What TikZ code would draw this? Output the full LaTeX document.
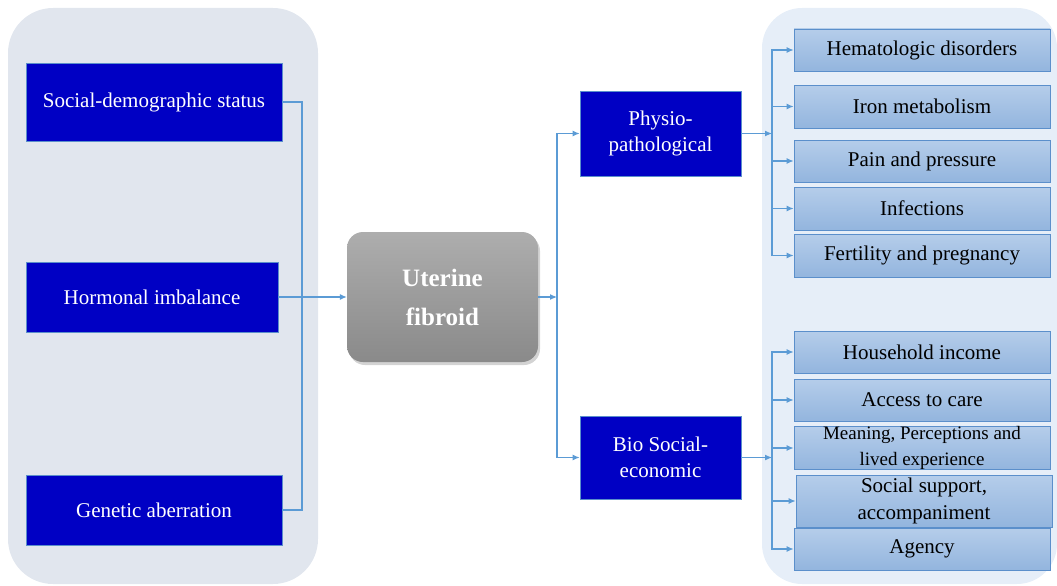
\documentclass[tikz,border=0pt]{standalone}
\usepackage{fontspec}
\setmainfont{Liberation Serif}
\usetikzlibrary{arrows.meta,shadows}
\definecolor{panelgrey}{HTML}{E1E6EE}
\definecolor{panelblue}{HTML}{E6EEF8}
\definecolor{deepblue}{HTML}{0000C4}
\definecolor{edgeblue}{HTML}{5B8FCB}
\definecolor{linkblue}{HTML}{5B9BD5}
\definecolor{boxtop}{HTML}{B5CDEA}
\definecolor{boxbot}{HTML}{93B5DE}
\begin{document}
\begin{tikzpicture}[x=1pt,y=-1pt,
    causebox/.style={draw=edgeblue,fill=deepblue,text=white,line width=0.8pt,
      font=\fontsize{21}{26}\selectfont,align=center},
    resultbox/.style={draw=edgeblue,line width=0.8pt,top color=boxtop,bottom color=boxbot,
      minimum width=256pt,minimum height=42pt,inner sep=0pt,
      font=\fontsize{21}{27}\selectfont,align=center},
    link/.style={draw=linkblue,line width=1.1pt},
    linkarr/.style={link,-{Latex[length=7pt,width=6pt]}}]
  \useasboundingbox (0,0) rectangle (1057,586);
  \fill[panelgrey,rounded corners=45pt] (8,8) rectangle (318,584);
  \fill[panelblue,rounded corners=40pt] (762,8) rectangle (1057,584);
  \draw
    (154,102) node[causebox,minimum width=256pt,minimum height=78pt] (soc){Social-demographic status}
    (152,297) node[causebox,minimum width=252pt,minimum height=70pt] (horm){Hormonal imbalance}
    (154,510) node[causebox,minimum width=256pt,minimum height=70pt] (gen){Genetic aberration}
    (442.5,297) node[rounded corners=16pt,top color=black!32,bottom color=black!46,
      drop shadow={opacity=0.35,shadow xshift=2pt,shadow yshift=-3pt},
      minimum width=191pt,minimum height=130pt,text=white,align=center,
      font=\bfseries\fontsize{25}{39}\selectfont] (ut){Uterine\\fibroid}
    (660.5,133.5) node[causebox,minimum width=161pt,minimum height=85pt] (phy){Physio-\\pathological}
    (660.5,457.5) node[causebox,minimum width=161pt,minimum height=83pt] (bio){Bio Social-\\economic};
  \draw
    (922,50) node[resultbox] (hema){Hematologic disorders}
    (922,106.5) node[resultbox,minimum height=43pt] (iron){Iron metabolism}
    (922,161) node[resultbox] (pain){Pain and pressure}
    (922,208.5) node[resultbox,minimum height=43pt] (infe){Infections}
    (922,255.5) node[resultbox,minimum height=43pt] (fert){Fertility and pregnancy}
    (922,352) node[resultbox] (hous){Household income}
    (922,400) node[resultbox] (acce){Access to care}
    (922,448) node[resultbox,font=\fontsize{19}{26}\selectfont] (mean){Meaning, Perceptions and\\lived experience}
    (924,501) node[resultbox,minimum height=52pt] (supp){Social support,\\accompaniment}
    (922,549) node[resultbox] (agen){Agency};
  \coordinate (jl) at (302,297);
  \coordinate (jm) at (557,297);
  \coordinate (jp) at (772,133.5);
  \coordinate (jb) at (772,457.5);
  \begin{scope}
    \draw[link] (soc.east) -| (jl);
    \draw[link] (gen.east) -| (jl);
    \draw[linkarr] (horm.east) to (ut.west);
    \draw[linkarr] (ut.east) to (jm);
    \draw[linkarr] (jm) |- (phy.west);
    \draw[linkarr] (jm) |- (bio.west);
    \draw[linkarr] (phy.east) to (jp);
    \draw[linkarr] (jp) |- (hema.west);
    \draw[linkarr] (jp) |- (iron.west);
    \draw[linkarr] (jp) |- (pain.west);
    \draw[linkarr] (jp) |- (infe.west);
    \draw[linkarr] (jp) |- (fert.west);
    \draw[linkarr] (bio.east) to (jb);
    \draw[linkarr] (jb) |- (hous.west);
    \draw[linkarr] (jb) |- (acce.west);
    \draw[linkarr] (jb) |- (mean.west);
    \draw[linkarr] (jb) |- (supp.west);
    \draw[linkarr] (jb) |- (agen.west);
  \end{scope}
\end{tikzpicture}
\end{document}
